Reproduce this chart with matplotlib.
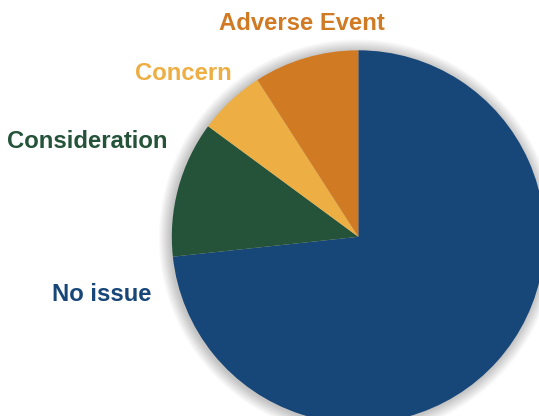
import matplotlib.pyplot as plt
from matplotlib.patches import Circle

# Slice data (clockwise from 12 o'clock)
labels = ['No issue', 'Consideration', 'Concern', 'Adverse Event']
values = [73.3, 11.8, 5.8, 9.1]
colors = ['#174678', '#245339', '#EDAE43', '#D17A24']

# Label placement in pixels (x, baseline y from top), alignment
label_pos = {
    'Adverse Event': (302, 29.5, 'center'),
    'Concern': (183.5, 79.5, 'center'),
    'Consideration': (167, 148, 'right'),
    'No issue': (151, 301, 'right'),
}

W, H = 539, 416
CX, CY, R = 358.3, H - 236.8, 186.5

fig = plt.figure(figsize=(W / 100, H / 100), dpi=100)
ax = fig.add_axes([0, 0, 1, 1])

# soft drop shadow
for i in range(1, 13):
    ax.add_patch(Circle((CX - 1, CY - 1), R + i, color='black', alpha=0.018, lw=0, zorder=1))

ax.pie(values, colors=colors, startangle=90, counterclock=False,
       center=(CX, CY), radius=R, frame=True,
       wedgeprops=dict(linewidth=0, zorder=2))
ax.set_xlim(0, W)
ax.set_ylim(0, H)
ax.set_aspect('equal')
ax.axis('off')

for lab, col in zip(labels, colors):
    x, y, ha = label_pos[lab]
    ax.text(x, H - y, lab, color=col, ha=ha, va='baseline',
            fontsize=17.2, fontweight='bold', family='Liberation Sans')

plt.savefig('out.png', dpi=100)
